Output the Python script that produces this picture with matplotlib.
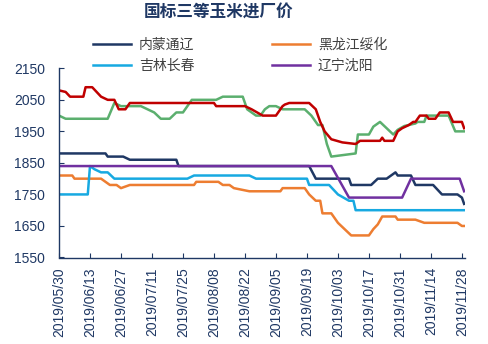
import matplotlib
matplotlib.use("Agg")
import matplotlib.pyplot as plt
import matplotlib.dates as mdates
import pandas as pd

plt.rcParams['font.family'] = ['Liberation Sans', 'Noto Sans CJK SC']

# 内蒙通辽
nm_dates = ["2019-05-30", "2019-06-20", "2019-06-21", "2019-06-28", "2019-07-01", "2019-07-22",
            "2019-07-23", "2019-09-20", "2019-09-23", "2019-10-08", "2019-10-09", "2019-10-18",
            "2019-10-21", "2019-10-25", "2019-10-29", "2019-10-30", "2019-11-05", "2019-11-07",
            "2019-11-15", "2019-11-19", "2019-11-26", "2019-11-28", "2019-11-29"]
nm_vals = [1880, 1880, 1870, 1870, 1860, 1860, 1840, 1840, 1800, 1800, 1780, 1780,
           1800, 1800, 1820, 1810, 1810, 1780, 1780, 1750, 1750, 1740, 1720]

# 黑龙江绥化
hlj_dates = ["2019-05-30", "2019-06-05", "2019-06-06", "2019-06-18", "2019-06-20", "2019-06-22",
             "2019-06-25", "2019-06-27", "2019-07-01", "2019-07-30", "2019-07-31", "2019-08-10",
             "2019-08-12", "2019-08-15", "2019-08-17", "2019-08-24", "2019-09-07", "2019-09-08",
             "2019-09-18", "2019-09-20", "2019-09-23", "2019-09-25", "2019-09-26", "2019-09-30",
             "2019-10-03", "2019-10-09", "2019-10-17", "2019-10-19", "2019-10-21", "2019-10-23",
             "2019-10-29", "2019-10-30", "2019-11-07", "2019-11-11", "2019-11-26", "2019-11-28",
             "2019-11-29"]
hlj_vals = [1810, 1810, 1800, 1800, 1790, 1780, 1780, 1770, 1780, 1780, 1790, 1790,
            1780, 1780, 1770, 1760, 1760, 1770, 1770, 1750, 1730, 1730, 1690, 1690,
            1660, 1620, 1620, 1640, 1655, 1680, 1680, 1670, 1670, 1660, 1660, 1650, 1650]

# 吉林长春
jl_dates = ["2019-05-30", "2019-06-12", "2019-06-13", "2019-06-15", "2019-06-18", "2019-06-21",
            "2019-06-24", "2019-07-27", "2019-07-30", "2019-08-24", "2019-08-27", "2019-09-19",
            "2019-09-20", "2019-09-29", "2019-10-03", "2019-10-08", "2019-10-10", "2019-10-11",
            "2019-11-29"]
jl_vals = [1750, 1750, 1840, 1830, 1820, 1820, 1800, 1800, 1810, 1810, 1800, 1800,
           1780, 1780, 1750, 1730, 1730, 1700, 1700]

# 辽宁沈阳
ln_dates = ["2019-05-30", "2019-09-30", "2019-10-08", "2019-11-01", "2019-11-05", "2019-11-27",
            "2019-11-29"]
ln_vals = [1840, 1840, 1740, 1740, 1800, 1800, 1760]

# red series (no legend entry)
red_dates = ["2019-05-30", "2019-06-02", "2019-06-04", "2019-06-10", "2019-06-11", "2019-06-14",
             "2019-06-16", "2019-06-18", "2019-06-21", "2019-06-24", "2019-06-26", "2019-06-29",
             "2019-07-01", "2019-08-08", "2019-08-09", "2019-08-22", "2019-08-25", "2019-08-30",
             "2019-09-05", "2019-09-08", "2019-09-09", "2019-09-11", "2019-09-20", "2019-09-23",
             "2019-09-25", "2019-09-27", "2019-09-30", "2019-10-05", "2019-10-11", "2019-10-13",
             "2019-10-22", "2019-10-23", "2019-10-24", "2019-10-28", "2019-10-30", "2019-11-01",
             "2019-11-04", "2019-11-06", "2019-11-07", "2019-11-09", "2019-11-12", "2019-11-13",
             "2019-11-16", "2019-11-18", "2019-11-22", "2019-11-24", "2019-11-28", "2019-11-29"]
red_vals = [2080, 2075, 2060, 2060, 2090, 2090, 2075, 2060, 2050, 2050, 2020, 2020,
            2040, 2040, 2030, 2030, 2020, 2000, 2000, 2030, 2035, 2040, 2040, 2020,
            1980, 1950, 1925, 1915, 1910, 1920, 1920, 1930, 1920, 1920, 1950, 1960,
            1970, 1980, 1980, 2000, 2000, 1990, 1990, 2010, 2010, 1980, 1980, 1960]

# green series (no legend entry)
green_dates = ["2019-05-30", "2019-06-02", "2019-06-21", "2019-06-24", "2019-06-27", "2019-07-06",
               "2019-07-12", "2019-07-15", "2019-07-19", "2019-07-22", "2019-07-25", "2019-07-29",
               "2019-08-09", "2019-08-12", "2019-08-21", "2019-08-23", "2019-08-27", "2019-08-29",
               "2019-08-31", "2019-09-02", "2019-09-05", "2019-09-08", "2019-09-18", "2019-09-21",
               "2019-09-24", "2019-09-26", "2019-09-28", "2019-09-30", "2019-10-11", "2019-10-12",
               "2019-10-17", "2019-10-19", "2019-10-22", "2019-10-25", "2019-10-28", "2019-10-30",
               "2019-11-02", "2019-11-07", "2019-11-08", "2019-11-11", "2019-11-12", "2019-11-22",
               "2019-11-25", "2019-11-29"]
green_vals = [2000, 1990, 1990, 2040, 2030, 2030, 2010, 1990, 1990, 2010, 2010, 2050,
              2050, 2060, 2060, 2020, 2000, 2000, 2020, 2030, 2030, 2020, 2020, 2000,
              1970, 1970, 1910, 1870, 1880, 1940, 1940, 1965, 1980, 1960, 1940, 1955,
              1967, 1975, 1980, 1980, 2000, 2000, 1950, 1950]

tick_labels = ["2019/05/30", "2019/06/13", "2019/06/27", "2019/07/11", "2019/07/25",
               "2019/08/08", "2019/08/22", "2019/09/05", "2019/09/19", "2019/10/03",
               "2019/10/17", "2019/10/31", "2019/11/14", "2019/11/28"]
yticks = [1550, 1650, 1750, 1850, 1950, 2050, 2150]

navy = '#1F3864'

fig = plt.figure(figsize=(4.88, 3.44), dpi=100)
ax = fig.add_axes([59/488, 1-257.5/344, 406/488, 189.2/344])

ax.plot(pd.to_datetime(green_dates), green_vals, color='#5BAF6E', lw=1.8, label='_nolegend_')
ax.plot(pd.to_datetime(red_dates), red_vals, color='#C00000', lw=1.8, label='_nolegend_')
ax.plot(pd.to_datetime(hlj_dates), hlj_vals, color='#ED7D31', lw=1.8, label='黑龙江绥化')
ax.plot(pd.to_datetime(jl_dates), jl_vals, color='#17A9E1', lw=1.8, label='吉林长春')
ax.plot(pd.to_datetime(nm_dates), nm_vals, color='#1F3864', lw=1.8, label='内蒙通辽')
ax.plot(pd.to_datetime(ln_dates), ln_vals, color='#7030A0', lw=1.8, label='辽宁沈阳')

x0 = mdates.date2num(pd.Timestamp("2019-05-30"))
ax.set_xlim(x0, x0 + 183.4)
ax.set_ylim(1550, 2150)
ax.set_yticks(yticks)
ax.set_xticks(pd.to_datetime([t.replace('/', '-') for t in tick_labels]))
ax.set_xticklabels(tick_labels, rotation=90)

for s in ['top', 'right']:
    ax.spines[s].set_visible(False)
for s in ['left', 'bottom']:
    ax.spines[s].set_color(navy)
    ax.spines[s].set_linewidth(1.0)
ax.tick_params(axis='both', direction='in', length=3.5, color=navy, labelcolor=navy, labelsize=10)
ax.tick_params(axis='y', pad=10)
ax.tick_params(axis='x', pad=7)

handles, labels = ax.get_legend_handles_labels()
order = ['内蒙通辽', '吉林长春', '黑龙江绥化', '辽宁沈阳']
hl = dict(zip(labels, handles))
leg = fig.legend([hl[k] for k in order], order, ncol=2, loc='upper left',
                 bbox_to_anchor=(93/488, 1-38/344), frameon=False, fontsize=10,
                 handlelength=2.7, handletextpad=0.6, columnspacing=5.6,
                 labelspacing=0.5, borderpad=0, borderaxespad=0)
for t in leg.get_texts():
    t.set_color('#404040')

fig.text(219/488, 1-13/344, '国标三等玉米进厂价', ha='center', va='center',
         fontsize=12, fontweight='bold', color=navy)

fig.savefig('out.png', dpi=100)
